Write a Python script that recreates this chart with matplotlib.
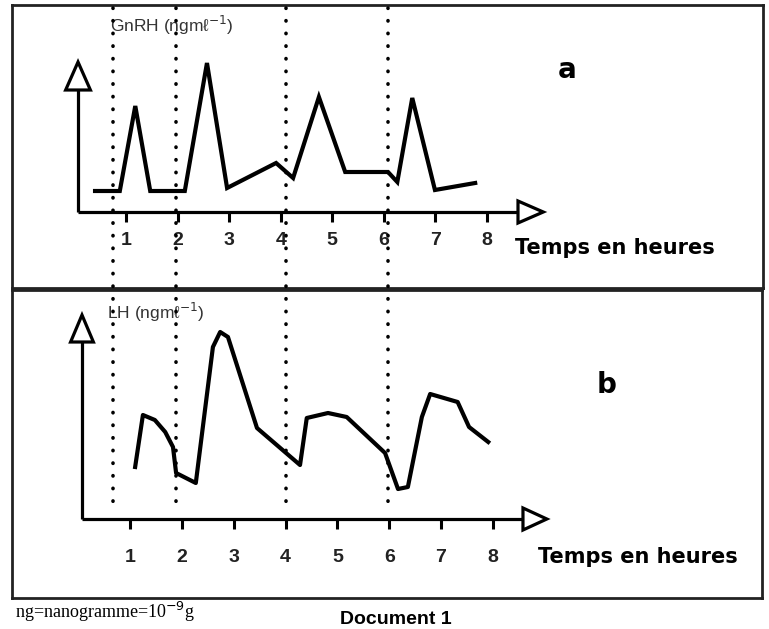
import numpy as np
import matplotlib.pyplot as plt
from matplotlib.patches import Polygon
from matplotlib.lines import Line2D
from matplotlib import transforms

heures = [1, 2, 3, 4, 5, 6, 7, 8]

# GnRH (graphe a)
gnrh_t = [0.40, 0.88, 1.18, 1.47, 2.14, 2.57, 2.96, 3.91, 4.24, 4.74, 5.25, 6.08, 6.26, 6.55, 6.99, 7.77]
gnrh_c = [2.1, 2.1, 10.6, 2.1, 2.1, 14.9, 2.4, 4.9, 3.4, 11.5, 4.0, 4.0, 3.0, 11.4, 2.2, 2.9]

# LH (graphe b)
lh_t = [1.10, 1.25, 1.48, 1.68, 1.83, 1.89, 2.27, 2.60, 2.74, 2.89, 3.45, 4.28, 4.41,
        4.82, 5.18, 5.92, 6.17, 6.36, 6.63, 6.79, 7.32, 7.54, 7.91]
lh_c = [5.2, 10.4, 9.9, 8.7, 7.2, 4.6, 3.6, 17.2, 18.7, 18.2, 9.1, 5.4, 10.1,
        10.6, 10.2, 6.6, 3.0, 3.2, 10.2, 12.5, 11.7, 9.2, 7.7]

# traits pointilles verticaux (en heures, echelle du graphe a)
reperes = [0.75, 1.97, 4.10, 6.08]

W, H = 769, 629
fig = plt.figure(figsize=(W / 100, H / 100), dpi=100)
plt.rcParams['font.family'] = ['Liberation Sans', 'DejaVu Sans']

def px_axes(x0, y0, x1, y1):
    return fig.add_axes([x0 / W, 1 - y1 / H, (x1 - x0) / W, (y1 - y0) / H])

ax_a = px_axes(12, 5, 763, 288)
ax_b = px_axes(12, 290, 762, 598)

ax_a.set_xlim(-1.21, 13.35)
ax_a.set_ylim(-7.6, 20.7)
ax_b.set_xlim(-1.275, 13.19)
ax_b.set_ylim(-7.9, 22.9)

def repere(ax, x0, xmax, xtip, dy, ymax, ytip, dx, ylab):
    lw = 2.3
    ax.plot([x0, xmax], [0, 0], color='k', lw=lw, solid_capstyle='butt', zorder=3)
    ax.plot([x0, x0], [0, ymax], color='k', lw=lw, solid_capstyle='butt', zorder=3)
    ax.add_patch(Polygon([[xmax, -dy], [xtip, 0], [xmax, dy]], closed=True,
                         fc='white', ec='k', lw=lw, zorder=3))
    ax.add_patch(Polygon([[x0 - dx, ymax], [x0, ytip], [x0 + dx, ymax]], closed=True,
                         fc='white', ec='k', lw=lw, zorder=3))
    ax.vlines(heures, -1.0, 0, color='k', lw=2.2, zorder=3)
    for h in heures:
        ax.text(h, ylab, str(h), ha='center', va='center', fontsize=14,
                fontweight='bold', color='#222222')

repere(ax_a, 0.07, 8.60, 9.09, 1.1, 12.2, 15.0, 0.24, -2.8)
repere(ax_b, 0.075, 8.58, 9.04, 1.1, 17.7, 20.4, 0.22, -3.9)

ax_a.plot(gnrh_t, gnrh_c, color='k', lw=3, solid_joinstyle='miter', zorder=4)
ax_b.plot(lh_t, lh_c, color='k', lw=3, solid_joinstyle='round', zorder=4)

ax_a.text(0.69, 18.7, 'GnRH (ngmℓ$^{-1}$)', ha='left', va='center', fontsize=12.5, color='#333333')
ax_b.text(0.56, 20.7, 'LH (ngmℓ$^{-1}$)', ha='left', va='center', fontsize=12.5, color='#333333')

ax_a.text(9.55, 14.2, 'a', ha='center', va='center', fontsize=20, fontweight='heavy',
          family='DejaVu Sans')
ax_b.text(10.2, 13.4, 'b', ha='center', va='center', fontsize=20, fontweight='heavy',
          family='DejaVu Sans')

ax_a.text(8.54, -3.6, 'Temps en heures', ha='left', va='center', fontsize=15,
          fontweight='heavy', family='DejaVu Sans')
ax_b.text(8.87, -3.8, 'Temps en heures', ha='left', va='center', fontsize=15,
          fontweight='heavy', family='DejaVu Sans')

for ax in (ax_a, ax_b):
    ax.set_xticks([])
    ax.set_yticks([])
    for s in ax.spines.values():
        s.set_linewidth(2)
        s.set_color('#222222')

# pointilles qui traversent les deux cadres
tr = transforms.blended_transform_factory(ax_a.transData, fig.transFigure)
for x in reperes:
    fig.add_artist(Line2D([x, x], [1 - 8 / H, 1 - 508 / H], transform=tr, color='k',
                          lw=2.6, linestyle=(0, (0.1, 3.4)), dash_capstyle='round', zorder=5))

fig.text(15 / W, 1 - 612 / H, 'ng=nanogramme=10$^{-9}$g', ha='left', va='center',
         fontsize=13, family='Liberation Serif')
fig.text(340 / W, 1 - 628 / H, 'Document 1', ha='left', va='bottom', fontsize=14,
         fontweight='bold')

fig.savefig('out.png', dpi=100)
